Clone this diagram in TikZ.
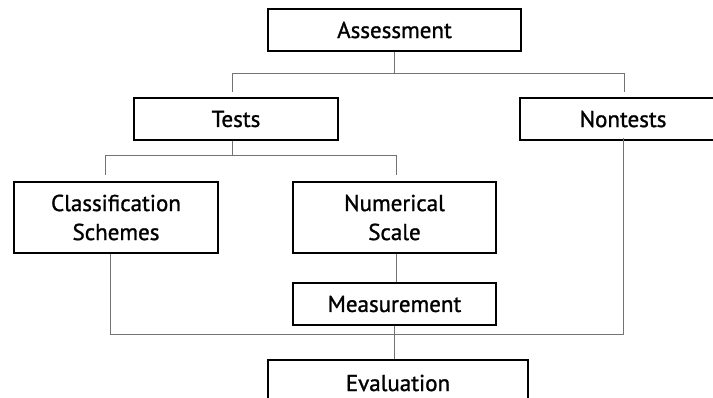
\documentclass[tikz,border=0pt]{standalone}
\usepackage{fontspec}
\setmainfont[FakeBold=1.2]{PT Sans}
\begin{document}
\begin{tikzpicture}[x=1pt,y=-1pt,
  box/.style={draw=black, line width=2.3pt, fill=white, inner sep=0pt, align=center,
    font=\fontsize{23}{29}\selectfont},
  conn/.style={draw=black!55, line width=0.9pt}]
\useasboundingbox (0,0) rectangle (713,398);
\begin{scope}
\clip (0,0) rectangle (713,398);
\node[box, minimum width=253pt, minimum height=42pt] (assess) at (394.5,30) {Assessment};
\node[box, minimum width=204pt, minimum height=42pt] (tests) at (236,119) {Tests};
\node[box, minimum width=206pt, minimum height=42pt] (nontests) at (623,119) {Nontests};
\node[box, minimum width=204pt, minimum height=71pt] (class) at (116,217.5) {Classification\\Schemes};
\node[box, minimum width=203pt, minimum height=71pt] (numer) at (394.5,217.5) {Numerical\\Scale};
\node[box, minimum width=203pt, minimum height=42pt] (meas) at (394.5,304) {Measurement};
\node[box, minimum width=260pt, minimum height=46pt] (eval) at (398,383) {Evaluation};
\end{scope}
% junction coordinates
\coordinate (h1) at (394.5,73);
\coordinate (ht) at (232,73);
\coordinate (hn) at (624,73);
\coordinate (tt) at (232,92);
\coordinate (tn) at (624,92);
\coordinate (h2) at (232,155);
\coordinate (hc) at (105,155);
\coordinate (hu) at (396,155);
\coordinate (tc) at (105,175);
\coordinate (tu) at (396,175);
\coordinate (bl) at (110,334);
\coordinate (br) at (623,334);
\draw[conn] (assess.south) -- (h1);
\draw[conn] (tt) -- (ht) -- (hn) -- (tn);
\draw[conn] (tests.south -| h2) -- (h2);
\draw[conn] (tc) -- (hc) -- (hu) -- (tu);
\draw[conn] ([xshift=-6pt]class.south) -- (bl) -- (br) -- ([yshift=3pt]nontests.south);
\draw[conn] ([xshift=2pt]numer.south) -- ([xshift=2pt]meas.north);
\draw[conn] (meas.south) -- (meas.south |- eval.north);
\end{tikzpicture}
\end{document}
